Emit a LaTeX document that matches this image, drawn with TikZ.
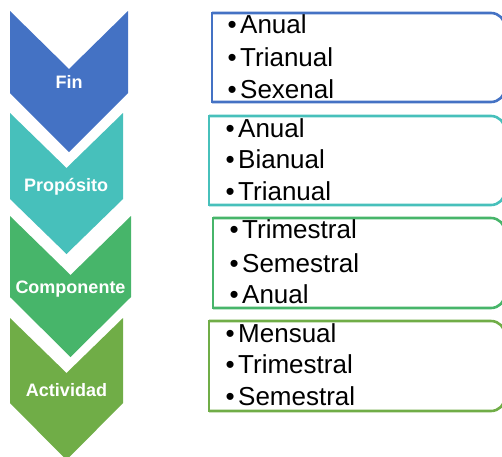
\documentclass[tikz,border=0pt]{standalone}
\usepackage{fontspec}
\setmainfont{Liberation Sans}
\definecolor{cblue}{HTML}{4472C4}
\definecolor{cteal}{HTML}{47C0BB}
\definecolor{cgreen}{HTML}{47B56A}
\definecolor{colive}{HTML}{70AD47}
\tikzset{
  chevlabel/.style={text=white,font=\bfseries\fontsize{18}{20}\selectfont,inner sep=0pt,anchor=base},
  itemtext/.style={font=\fontsize{26}{30}\selectfont,inner sep=0pt,anchor=base west},
  boxline/.style={line width=2.6pt,rounded corners=14pt},
  boxedge/.style={line width=2.6pt,line cap=rect},
}
\newcommand\chev[8]{% color, L, R, C, top, notch, shoulder, tip
  \fill[#1] (#2,#5) -- (#4,#6) -- (#3,#5) -- (#3,#7) -- (#4,#8) -- (#2,#7) -- cycle;}
\newcommand\rbox[5]{% color, L, T, R, B
  \draw[boxline,#1] (#2,#3) -- (#4,#3) -- (#4,#5) -- (#2,#5);
  \draw[boxedge,#1] (#2,#3) -- (#2,#5);}
\begin{document}
\begin{tikzpicture}[x=1pt,y=-1pt]
\useasboundingbox (0,0) rectangle (502,456);
\clip (0,0) rectangle (502,456);
% chevrons
\chev{cblue}{10}{128}{69}{11}{69}{93}{152}
\chev{cteal}{10}{123}{66.5}{113}{168}{199}{254}
\chev{cgreen}{10}{131}{70.5}{216}{275}{297}{357}
\chev{colive}{10}{123}{66.5}{318}{373}{403}{460}
\node[chevlabel] (fin) at (69,88) {Fin};
\node[chevlabel] (prop) at (66,191) {Propósito};
\node[chevlabel] (comp) at (70.5,293) {Componente};
\node[chevlabel] (act) at (66.5,396) {Actividad};
% boxes
\rbox{cblue}{212}{13}{505}{102}
\rbox{cteal}{209}{116}{505}{205}
\rbox{cgreen}{213}{218}{505}{308}
\rbox{colive}{209}{321}{505}{411}
% items
\newcommand\bitem[4]{\node[itemtext] (#1) at (#2,#3) {\makebox[12.5pt][l]{•}#4};}
\bitem{a1}{227.5}{33}{Anual}
\bitem{a2}{227.5}{66}{Trianual}
\bitem{a3}{227.5}{98}{Sexenal}
\bitem{b1}{225.5}{137}{Anual}
\bitem{b2}{225.5}{168}{Bianual}
\bitem{b3}{225.5}{200}{Trianual}
\bitem{c1}{229.5}{238}{Trimestral}
\bitem{c2}{229.5}{272}{Semestral}
\bitem{c3}{229.5}{303}{Anual}
\bitem{d1}{225.5}{342}{Mensual}
\bitem{d2}{225.5}{373}{Trimestral}
\bitem{d3}{225.5}{405}{Semestral}
\end{tikzpicture}
\end{document}
